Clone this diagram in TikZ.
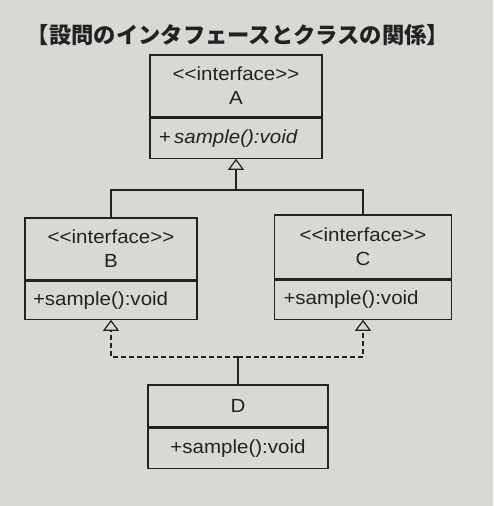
\documentclass[tikz,border=0pt]{standalone}
\usepackage{fontspec}
\setmainfont{Liberation Sans}[FakeStretch=1.08]
\newfontfamily\jpfont{Noto Sans CJK JP}
\usetikzlibrary{arrows.meta, positioning}
\definecolor{paper}{RGB}{216,216,212}
\definecolor{ink}{RGB}{34,34,34}

\begin{document}
\begin{tikzpicture}[x=1pt,y=-1pt]

\tikzset{head/.style = {draw=ink, line width=1.2pt, align=center, inner sep=0pt, text=ink, font=\fontsize{19}{24}\selectfont}}
\tikzset{body/.style = {draw=ink, line width=1.2pt, inner xsep=9pt, inner ysep=0pt, text=ink, font=\fontsize{19}{24}\selectfont, below=0pt of #1}}
\tikzset{link/.style = {draw=ink, line width=1.2pt}}
\tikzset{realize/.style = {-{Triangle[open,length=11pt,width=16pt]}}}

\fill[paper] (0,0) rectangle (493,506);
\useasboundingbox (0,0) rectangle (493,506);

% title
\node[text=ink, font=\jpfont\bfseries\fontsize{22.3}{22.3}\selectfont] (title) at (238,35) {【設問のインタフェースとクラスの関係】};

% classes
\node[head, minimum width=172pt, minimum height=62pt] (Ahead) at (236,86) {<{}<interface>{}>\\A};
\node[body=Ahead, minimum height=40pt, text width=154pt, align=left] (Abody) {+\,\textit{sample():void}};

\node[head, minimum width=172pt, minimum height=62pt] (Bhead) at (111,249) {<{}<interface>{}>\\B};
\node[body=Bhead, minimum height=38pt, text width=156pt, align=left, inner xsep=8pt] (Bbody) {+sample():void};

\node[head, minimum width=177pt, minimum height=64pt] (Chead) at (363,247) {<{}<interface>{}>\\C};
\node[body=Chead, minimum height=39pt, text width=159pt, align=left] (Cbody) {+sample():void};

\node[head, minimum width=180pt, minimum height=42pt] (Dhead) at (238,406) {D};
\node[body=Dhead, minimum height=40pt, text width=162pt, align=center] (Dbody) {+sample():void};

% edges
\coordinate (fork) at (Abody.south |- 0,190);
\coordinate (join) at (Dhead.north |- 0,357);
\draw[link] (Bhead.north) |- (fork) -| (Chead.north);
\draw[link, realize] (fork) -- (Abody.south);
\draw[link] (Dhead.north) -- (join);
\draw[link, realize, dash pattern=on 5pt off 3pt] (join) -| (Bbody.south);
\draw[link, realize, dash pattern=on 5pt off 3pt] (join) -| (Cbody.south);
\end{tikzpicture}
\end{document}
